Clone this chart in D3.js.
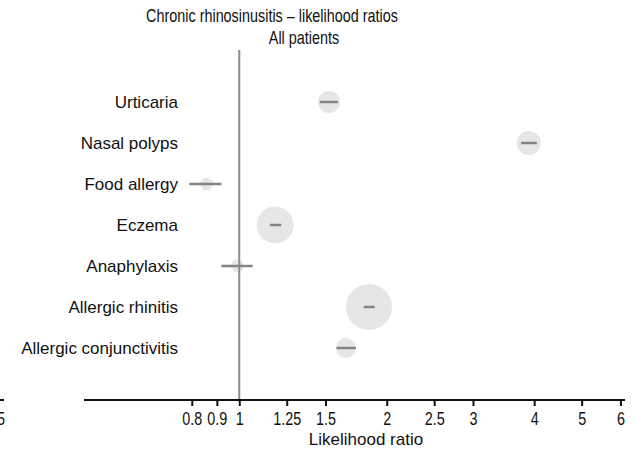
<!DOCTYPE html>
<html>
<head>
<meta charset="utf-8">
<script src="https://cdn.jsdelivr.net/npm/d3@7"></script>
<style>
  body { margin: 0; background: #fff; }
  text { font-family: "Liberation Sans", Arial, sans-serif; fill: #111; }
</style>
</head>
<body>
<svg class="chart"></svg>
<script>
const conditions = ['Urticaria', 'Nasal polyps', 'Food allergy', 'Eczema', 'Anaphylaxis', 'Allergic rhinitis', 'Allergic conjunctivitis'];
const ratio = [1.525, 3.9, 0.858, 1.184, 0.99, 1.84, 1.65];
const lower = [1.46, 3.76, 0.79, 1.155, 0.919, 1.795, 1.58];
const upper = [1.59, 4.05, 0.92, 1.218, 1.065, 1.89, 1.73];
const weight = [121, 144, 40, 342, 42, 529, 100];
const ticks = [0.8, 0.9, 1, 1.25, 1.5, 2, 2.5, 3, 4, 5, 6];

const width = 636;
const height = 453;
const narrow = 'scale(0.8,1)';

const svg = d3.select('.chart').attr('width', width).attr('height', height);

const x = d3.scaleLog().domain([0.482, 6.13]).range([84, 625]);
const y = d3.scalePoint().domain(conditions).range([102, 348]);
const r = d3.scaleSqrt().domain([0, 529]).range([0, 23]);

const rows = conditions.map((c, i) => ({
  name: c, lr: ratio[i], lo: lower[i], hi: upper[i], w: weight[i]
}));

// titles (the source font is a condensed sans)
svg.append('text').attr('transform', `translate(272,22) ${narrow}`)
  .attr('text-anchor', 'middle').attr('font-size', 18)
  .text('Chronic rhinosinusitis \u2013 likelihood ratios');
svg.append('text').attr('transform', `translate(304,44) ${narrow}`)
  .attr('text-anchor', 'middle').attr('font-size', 18)
  .text('All patients');

// bubbles
svg.append('g').selectAll('circle')
  .data(rows).enter().append('circle')
  .attr('cx', d => x(d.lr))
  .attr('cy', d => y(d.name))
  .attr('r', d => r(d.w))
  .attr('fill', '#e6e6e6');

// reference line at 1
svg.append('line')
  .attr('x1', x(1)).attr('x2', x(1))
  .attr('y1', 50).attr('y2', 400)
  .attr('stroke', '#8c8c8c').attr('stroke-width', 2);

// intervals
svg.append('g').selectAll('line')
  .data(rows).enter().append('line')
  .attr('x1', d => x(d.lo)).attr('x2', d => x(d.hi))
  .attr('y1', d => y(d.name)).attr('y2', d => y(d.name))
  .attr('stroke', '#858585').attr('stroke-width', 2.5);

// category labels
svg.append('g').selectAll('text')
  .data(rows).enter().append('text')
  .attr('x', 178).attr('y', d => y(d.name) + 6)
  .attr('text-anchor', 'end').attr('font-size', 17)
  .text(d => d.name);

// x axis
const axis = svg.append('g').attr('transform', 'translate(0,400)')
  .call(d3.axisBottom(x).tickValues(ticks).tickFormat(d3.format('')).tickSize(6).tickPadding(6));
axis.select('.domain').attr('stroke', '#111').attr('stroke-width', 2).attr('d', `M${x.range()[0]},0H${x.range()[1]}`);
axis.selectAll('.tick line').attr('stroke', '#111').attr('stroke-width', 2);
axis.selectAll('.tick text').attr('font-size', 18).attr('fill', '#111')
  .attr('font-family', '"Liberation Sans", Arial, sans-serif')
  .attr('transform', narrow);

// stray tick at the far left edge
svg.append('line').attr('x1', -2).attr('x2', 4).attr('y1', 400).attr('y2', 400)
  .attr('stroke', '#111').attr('stroke-width', 2);
svg.append('text').attr('transform', `translate(5,425) ${narrow}`)
  .attr('text-anchor', 'end').attr('font-size', 18).text('0.5');

svg.append('text').attr('x', 366).attr('y', 445).attr('text-anchor', 'middle')
  .attr('font-size', 17).text('Likelihood ratio');
</script>
</body>
</html>
